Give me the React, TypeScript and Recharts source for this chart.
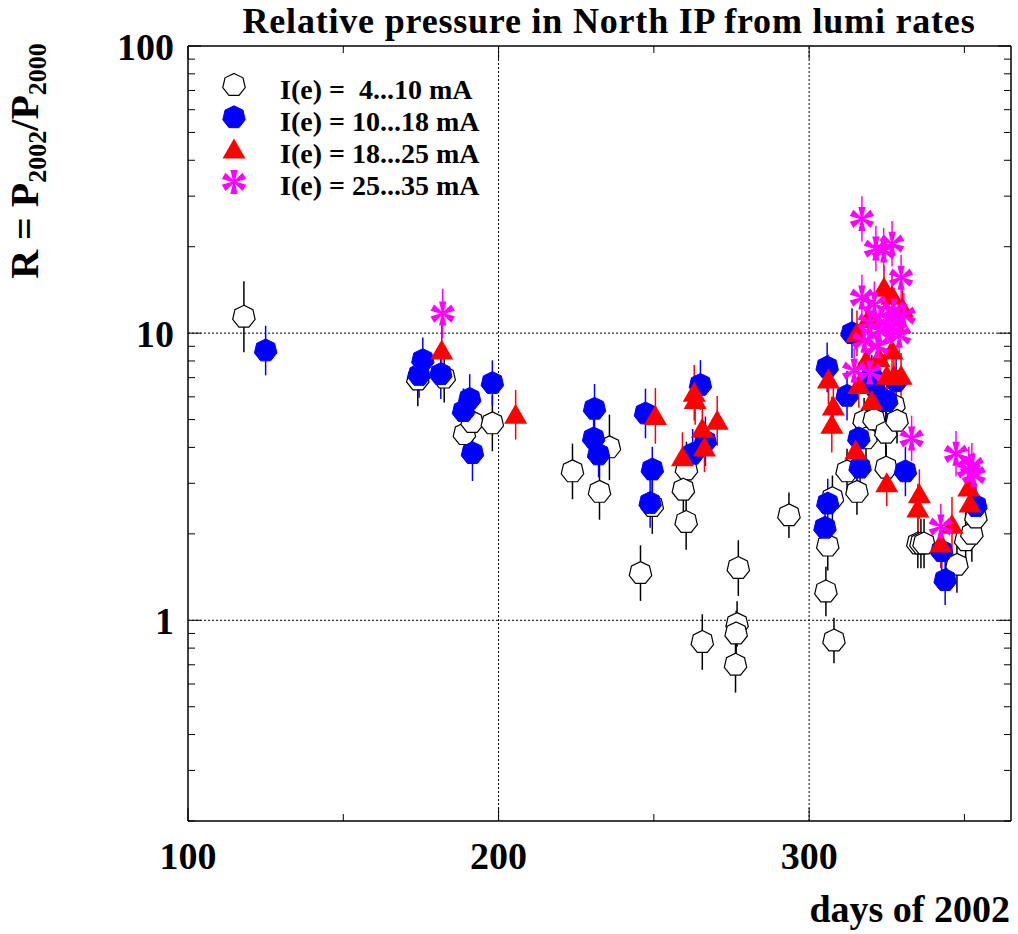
import React from 'react';
import { ScatterChart, Scatter, XAxis, YAxis, ErrorBar, ReferenceLine, Legend } from 'recharts';

const FONT = '"Liberation Serif", "Times New Roman", Times, serif';

// [day of 2002, R value, error factor (bar spans value/f .. value*f)]
const lowCurrent: [number, number, number][] = [
  [118, 11.4, 1.33], [174, 6.9, 1.24], [182.5, 7.0, 1.22], [189, 4.45, 1.2], [191.5, 4.9, 1.2],
  [198, 4.85, 1.25], [223.8, 3.3, 1.25], [232.5, 2.8, 1.25], [235.7, 4.0, 1.3], [245.7, 1.46, 1.25],
  [249.5, 2.5, 1.25], [260.5, 3.35, 1.25], [259.5, 2.85, 1.25], [260.4, 2.2, 1.25], [265.6, 0.84, 1.25],
  [277.2, 1.52, 1.25], [276.8, 0.97, 1.2], [276.5, 0.9, 1.2], [276.3, 0.7, 1.25], [293.5, 2.32, 1.2],
  [305.4, 1.26, 1.22], [306, 1.82, 1.22], [307.5, 2.66, 1.2], [308, 0.85, 1.2], [312.2, 3.3, 1.2],
  [315.4, 2.8, 1.2], [317.7, 4.95, 1.2], [318.3, 4.3, 1.2], [320.9, 5.0, 1.2], [324.7, 4.5, 1.2],
  [324.8, 3.4, 1.2], [327.3, 5.6, 1.2], [328.3, 4.95, 1.2], [335, 1.85, 1.22], [336, 1.85, 1.22],
  [337, 1.85, 1.22], [347.6, 1.56, 1.25], [350.4, 1.9, 1.25], [352.4, 2.0, 1.25], [353.7, 2.28, 1.2],
];

const midCurrent: [number, number, number][] = [
  [125, 8.7, 1.22], [175.6, 8.05, 1.2], [174.4, 7.15, 1.2], [181.4, 7.2, 1.22], [190.7, 5.9, 1.22],
  [188.7, 5.35, 1.2], [191.6, 3.82, 1.25], [198, 6.7, 1.2], [230.9, 5.45, 1.22], [230.6, 4.3, 1.2],
  [232.2, 3.78, 1.2], [247.3, 5.25, 1.22], [249.5, 3.35, 1.2], [248.8, 2.56, 1.22], [265, 6.6, 1.22],
  [266.6, 4.2, 1.22], [262.5, 3.8, 1.22], [305.8, 7.6, 1.22], [313.8, 10.0, 1.22], [312.2, 6.05, 1.22],
  [320.2, 7.0, 1.2], [321, 6.5, 1.2], [325, 5.8, 1.2], [328, 6.8, 1.2], [316, 4.3, 1.22],
  [316.4, 3.4, 1.22], [306, 2.55, 1.22], [305.1, 2.1, 1.22], [331, 3.3, 1.22], [342.7, 1.74, 1.22],
  [343.8, 1.38, 1.22], [353.7, 2.5, 1.2],
];

const highCurrent: [number, number, number][] = [
  [181.7, 8.7, 1.25], [205.5, 5.2, 1.22], [250.5, 5.15, 1.25], [263, 6.2, 1.25], [263.3, 5.85, 1.22],
  [265.6, 4.65, 1.22], [270.4, 4.95, 1.22], [266.3, 4.0, 1.22], [259.2, 3.7, 1.22], [306.2, 6.9, 1.22],
  [307.8, 5.55, 1.22], [307.3, 4.8, 1.25], [315, 3.9, 1.22], [316, 6.6, 1.2], [320.2, 5.8, 1.22],
  [325, 7.1, 1.2], [327.3, 7.1, 1.2], [329.6, 7.1, 1.2], [325, 3.0, 1.2], [318.3, 8.0, 1.2],
  [326.7, 8.7, 1.2], [324.1, 14.4, 1.2], [330, 12.2, 1.2], [326.7, 13.5, 1.2], [319, 11.2, 1.2],
  [315.4, 10.0, 1.2], [322.5, 8.2, 1.2], [335.5, 2.75, 1.22], [335, 2.45, 1.22], [346, 2.15, 1.25],
  [342.4, 1.85, 1.22], [351.4, 2.9, 1.2], [351.8, 2.55, 1.22],
];

const topCurrent: [number, number, number][] = [
  [182, 11.7, 1.22], [317, 25, 1.2], [321.5, 19.7, 1.2], [326.7, 20.5, 1.2], [324, 19.4, 1.2],
  [329.6, 15.6, 1.2], [317, 13.3, 1.2], [321, 12.6, 1.2], [319.5, 10.9, 1.2], [322.5, 10.2, 1.2],
  [325.7, 11.2, 1.2], [329, 9.8, 1.2], [322, 9.0, 1.2], [327.3, 12, 1.2], [317.7, 9.4, 1.2],
  [314.5, 7.4, 1.2], [319.5, 7.3, 1.2], [326.7, 10.5, 1.2], [330.5, 11.5, 1.2], [333, 4.3, 1.2],
  [347.3, 3.8, 1.2], [342.4, 2.12, 1.2], [351.4, 3.35, 1.2], [353, 3.2, 1.2], [352.4, 3.45, 1.2],
];

const seriesLabels = ['I(e) =  4...10 mA', 'I(e) = 10...18 mA', 'I(e) = 18...25 mA', 'I(e) = 25...35 mA'];

const X_TICKS = [100, 150, 200, 250, 300, 350];
const X_MAJOR = [100, 200, 300];
const Y_TICKS = [0.2, 0.3, 0.4, 0.5, 0.6, 0.7, 0.8, 0.9, 1, 2, 3, 4, 5, 6, 7, 8, 9, 10, 20, 30, 40, 50, 60, 70, 80, 90, 100];
const Y_MAJOR = [1, 10, 100];

const W = 1018;
const H = 934;
const Y_AXIS_W = 60;
const X_AXIS_H = 60;
const MARGIN = { top: 46, right: 7, bottom: 113 - X_AXIS_H, left: 188 - Y_AXIS_W };
const PLOT_W = W - 188 - MARGIN.right;
const PLOT_H = H - MARGIN.top - 113;

const toRows = (arr: [number, number, number][]) =>
  arr.map(([x, y, f]) => ({ x, y, err: [y - y / f, y * f - y] }));

const heptPoints = (cx: number, cy: number, r: number) => {
  const pts: string[] = [];
  for (let k = 0; k < 7; k++) {
    const a = (-90 + (k * 360) / 7) * (Math.PI / 180);
    pts.push(`${cx + r * Math.cos(a)},${cy + r * Math.sin(a)}`);
  }
  return pts.join(' ');
};

const OpenHept = ({ cx, cy }: any) => (
  <polygon points={heptPoints(cx, cy, 11.5)} fill="#fff" stroke="#000" strokeWidth={1.2} />
);
const FilledHept = ({ cx, cy }: any) => (
  <polygon points={heptPoints(cx, cy, 11.5)} fill="#0000ff" stroke="#0000ff" strokeWidth={1} />
);
const Tri = ({ cx, cy }: any) => (
  <polygon points={`${cx},${cy - 11} ${cx + 11.5},${cy + 9} ${cx - 11.5},${cy + 9}`} fill="#ff0000" />
);
const Star = ({ cx, cy }: any) => {
  const arms: string[] = [];
  const angles = [-90, -30, 30, 90, 150, 210];
  angles.forEach((deg) => {
    const a = (deg * Math.PI) / 180;
    const r = 12;
    const px = -Math.sin(a);
    const py = Math.cos(a);
    const w0 = 0.8;
    const w1 = 3.6;
    arms.push(
      `${cx + px * w0},${cy + py * w0} ${cx + r * Math.cos(a) + px * w1},${cy + r * Math.sin(a) + py * w1} ${cx + r * Math.cos(a) - px * w1},${cy + r * Math.sin(a) - py * w1} ${cx - px * w0},${cy - py * w0}`
    );
  });
  return (
    <g>
      {arms.map((p, i) => (
        <polygon key={i} points={p} fill="#ff00ff" />
      ))}
    </g>
  );
};

const YTick = ({ x, y, payload }: any) => {
  const v = payload.value;
  const major = Y_MAJOR.includes(v);
  const len = major ? 13 : 7;
  return (
    <g>
      <line x1={x} y1={y} x2={x + len} y2={y} stroke="#000" strokeWidth={1} />
      <line x1={x + PLOT_W} y1={y} x2={x + PLOT_W - len} y2={y} stroke="#000" strokeWidth={1} />
      {major && (
        <text x={x - 14} y={y} dy="0.36em" textAnchor="end" fontFamily={FONT} fontWeight="bold" fontSize={38} fill="#000">
          {String(v)}
        </text>
      )}
    </g>
  );
};

const XTick = ({ x, y, payload }: any) => {
  const v = payload.value;
  const major = X_MAJOR.includes(v);
  const len = major ? 13 : 7;
  return (
    <g>
      <line x1={x} y1={y} x2={x} y2={y - len} stroke="#000" strokeWidth={1} />
      <line x1={x} y1={y - PLOT_H} x2={x} y2={y - PLOT_H + len} stroke="#000" strokeWidth={1} />
      {major && (
        <text x={x} y={y + 48} textAnchor="middle" fontFamily={FONT} fontWeight="bold" fontSize={38} fill="#000">
          {String(v)}
        </text>
      )}
    </g>
  );
};

const LegendContent = () => {
  const mx = 234;
  const rows = [98.5, 130.8, 163.1, 195.4];
  const shapes = [OpenHept, FilledHept, Tri, Star];
  return (
    <svg width={520} height={220} style={{ display: 'block' }}>
      {seriesLabels.map((lab, i) => {
        const S = shapes[i];
        return (
          <g key={lab}>
            <S cx={mx} cy={rows[i] - 13.5} />
            <text x={280} y={rows[i]} fontFamily={FONT} fontWeight="bold" fontSize={28} fill="#000" style={{ whiteSpace: 'pre' }}>
              {lab}
            </text>
          </g>
        );
      })}
    </svg>
  );
};

const gridStyle = { stroke: '#000', strokeWidth: 1, strokeDasharray: '2 2' };

export default function App() {
  const low = toRows(lowCurrent);
  const mid = toRows(midCurrent);
  const high = toRows(highCurrent);
  const top = toRows(topCurrent);
  return (
    <div style={{ position: 'absolute', left: 0, top: 0, width: W, height: H, background: '#fff' }}>
      <ScatterChart width={W} height={H} margin={MARGIN}>
        <XAxis
          xAxisId="b"
          dataKey="x"
          type="number"
          domain={[100, 365]}
          ticks={X_TICKS}
          interval={0}
          allowDataOverflow
          height={X_AXIS_H}
          tickSize={0}
          tickMargin={0}
          tickLine={false}
          axisLine={{ stroke: '#000', strokeWidth: 1.5 }}
          tick={<XTick />}
        />
        <YAxis
          yAxisId="l"
          dataKey="y"
          type="number"
          scale="log"
          domain={[0.2, 100]}
          ticks={Y_TICKS}
          interval={0}
          allowDataOverflow
          width={Y_AXIS_W}
          tickSize={0}
          tickMargin={0}
          tickLine={false}
          axisLine={{ stroke: '#000', strokeWidth: 1.5 }}
          tick={<YTick />}
        />
        <ReferenceLine xAxisId="b" yAxisId="l" x={200} {...gridStyle} />
        <ReferenceLine xAxisId="b" yAxisId="l" x={300} {...gridStyle} />
        <ReferenceLine xAxisId="b" yAxisId="l" y={1} {...gridStyle} />
        <ReferenceLine xAxisId="b" yAxisId="l" y={10} {...gridStyle} />
        <ReferenceLine xAxisId="b" yAxisId="l" y={100} stroke="#000" strokeWidth={1.5} />
        <ReferenceLine xAxisId="b" yAxisId="l" x={365} stroke="#000" strokeWidth={1.5} />
        <Legend
          layout="vertical"
          verticalAlign="middle"
          align="center"
          content={<LegendContent />}
          wrapperStyle={{ left: 0, top: 0, width: 520, height: 220 }}
        />
        <Scatter xAxisId="b" yAxisId="l" name={seriesLabels[0]} data={low} shape={<OpenHept />} isAnimationActive={false}>
          <ErrorBar dataKey="err" direction="y" width={0} stroke="#000" strokeWidth={1.5} isAnimationActive={false} />
        </Scatter>
        <Scatter xAxisId="b" yAxisId="l" name={seriesLabels[1]} data={mid} shape={<FilledHept />} isAnimationActive={false}>
          <ErrorBar dataKey="err" direction="y" width={0} stroke="#0000ff" strokeWidth={1.5} isAnimationActive={false} />
        </Scatter>
        <Scatter xAxisId="b" yAxisId="l" name={seriesLabels[2]} data={high} shape={<Tri />} isAnimationActive={false}>
          <ErrorBar dataKey="err" direction="y" width={0} stroke="#ff0000" strokeWidth={1.5} isAnimationActive={false} />
        </Scatter>
        <Scatter xAxisId="b" yAxisId="l" name={seriesLabels[3]} data={top} shape={<Star />} isAnimationActive={false}>
          <ErrorBar dataKey="err" direction="y" width={0} stroke="#ff00ff" strokeWidth={1.5} isAnimationActive={false} />
        </Scatter>
      </ScatterChart>
      <svg width={W} height={H} style={{ position: 'absolute', left: 0, top: 0, pointerEvents: 'none' }}>
        <text x={609} y={33} textAnchor="middle" fontFamily={FONT} fontWeight="bold" fontSize={36} letterSpacing={0.8} fill="#000">
          Relative pressure in North IP from lumi rates
        </text>
        <text x={1010} y={922} textAnchor="end" fontFamily={FONT} fontWeight="bold" fontSize={38} fill="#000">
          days of 2002
        </text>
        <text transform="translate(38,161) rotate(-90)" textAnchor="middle" fontFamily={FONT} fontWeight="bold" fontSize={40} fill="#000">
          R = P<tspan fontSize={26} dy={8}>2002</tspan>
          <tspan dy={-8}>/P</tspan>
          <tspan fontSize={26} dy={8}>2000</tspan>
        </text>
      </svg>
    </div>
  );
}
